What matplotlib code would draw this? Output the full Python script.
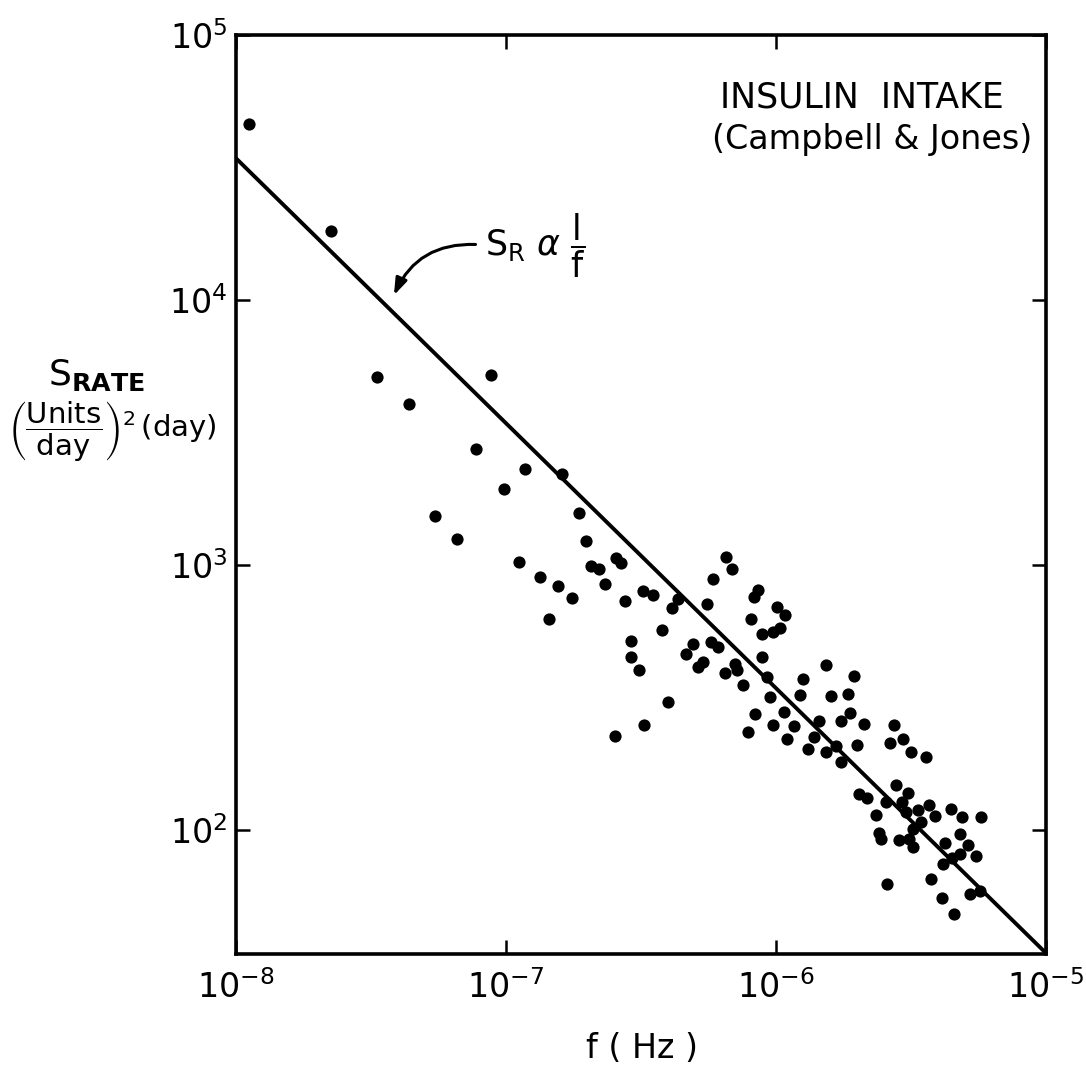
import matplotlib
matplotlib.use("Agg")
import matplotlib.pyplot as plt
import numpy as np
from matplotlib.ticker import FixedLocator, NullLocator

# ---- data ----
freq_hz = [
    1.12e-8, 2.25e-8, 3.34e-8, 4.36e-8, 8.80e-8, 7.74e-8, 1.18e-7, 1.62e-7, 9.82e-8, 5.48e-8,
    6.59e-8, 1.86e-7, 1.98e-7, 1.12e-7, 2.07e-7, 2.21e-7, 2.55e-7, 2.67e-7, 1.34e-7, 1.56e-7,
    1.76e-7, 2.33e-7, 2.77e-7, 1.44e-7, 3.23e-7, 3.52e-7, 3.78e-7, 4.35e-7, 4.13e-7, 6.55e-7,
    6.89e-7, 5.85e-7, 5.54e-7, 2.90e-7, 2.91e-7, 3.10e-7, 4.00e-7, 3.26e-7, 2.53e-7, 4.93e-7,
    4.66e-7, 5.14e-7, 5.38e-7, 5.76e-7, 6.11e-7, 6.46e-7, 7.06e-7, 7.18e-7, 7.53e-7, 8.61e-7,
    8.28e-7, 8.08e-7, 1.01e-6, 1.08e-6, 8.92e-7, 9.78e-7, 1.04e-6, 8.92e-7, 9.27e-7, 9.49e-7,
    1.23e-6, 8.34e-7, 1.07e-6, 9.73e-7, 1.17e-6, 7.87e-7, 1.10e-6, 1.26e-6, 1.53e-6, 1.95e-6,
    1.60e-6, 1.85e-6, 1.44e-6, 1.39e-6, 1.32e-6, 1.53e-6, 1.67e-6, 1.74e-6, 1.88e-6, 1.74e-6,
    2.12e-6, 2.00e-6, 2.75e-6, 2.95e-6, 2.64e-6, 3.17e-6, 3.59e-6, 2.04e-6, 2.17e-6, 2.79e-6,
    3.08e-6, 2.94e-6, 2.56e-6, 2.35e-6, 3.04e-6, 3.35e-6, 3.69e-6, 3.87e-6, 3.46e-6, 3.22e-6,
    2.40e-6, 2.45e-6, 2.85e-6, 3.12e-6, 3.22e-6, 4.47e-6, 4.89e-6, 5.77e-6, 4.82e-6, 5.13e-6,
    4.24e-6, 4.16e-6, 4.48e-6, 4.80e-6, 5.52e-6, 2.59e-6, 3.77e-6, 4.12e-6, 4.55e-6, 5.23e-6,
    5.69e-6,
]
s_rate = [
    46400, 18300, 5140, 4060, 5200, 2740, 2310, 2200, 1930, 1530,
    1256, 1570, 1227, 1023, 991, 964, 1065, 1020, 900, 836,
    750, 845, 731, 627, 798, 769, 570, 745, 689, 1075,
    962, 887, 710, 518, 451, 401, 305, 248, 226, 502,
    463, 411, 432, 512, 492, 391, 424, 403, 352, 807,
    759, 623, 695, 645, 550, 556, 577, 451, 378, 318,
    323, 273, 278, 248, 246, 234, 220, 370, 420, 382,
    319, 327, 258, 225, 202, 197, 207, 180, 277, 257,
    252, 210, 248, 221, 213, 197, 189, 137, 132, 148,
    138, 127, 127, 114, 117, 119, 124, 113, 107, 101,
    97.7, 92.3, 91.6, 92.0, 86.0, 120, 112, 112, 96.1, 87.7,
    89.5, 74.6, 78.2, 81.2, 79.8, 62.4, 65.0, 55.3, 48.2, 57.3,
    59.0,
]
line_coef = 3.43e-4          # S_R = line_coef / f
line_f = [1e-8, 1e-5]

x_ticks = [1e-8, 1e-7, 1e-6, 1e-5]
x_tick_labels = [r"$10^{-8}$", r"$10^{-7}$", r"$10^{-6}$", r"$10^{-5}$"]
y_ticks = [1e2, 1e3, 1e4, 1e5]
y_tick_labels = [r"$10^{2}$", r"$10^{3}$", r"$10^{4}$", r"$10^{5}$"]

# ---- figure ----
plt.rcParams["font.family"] = ["DejaVu Sans"]
plt.rcParams["mathtext.fontset"] = "dejavusans"

fig = plt.figure(figsize=(10.86, 10.69), dpi=100)
ax = fig.add_axes([0.2173, 0.1076, 0.7457, 0.8595])

ax.set_xscale("log")
ax.set_yscale("log")
ax.set_xlim(1e-8, 1e-5)
ax.set_ylim(34, 1e5)

ax.plot(freq_hz, s_rate, "o", color="black", markersize=8.8, markeredgewidth=0)
lf = np.array(line_f)
ax.plot(lf, line_coef / lf, color="black", linewidth=2.8, solid_capstyle="butt")

ax.xaxis.set_major_locator(FixedLocator(x_ticks))
ax.yaxis.set_major_locator(FixedLocator(y_ticks))
ax.xaxis.set_minor_locator(NullLocator())
ax.yaxis.set_minor_locator(NullLocator())
ax.set_xticklabels(x_tick_labels)
ax.set_yticklabels(y_tick_labels)
ax.tick_params(which="major", direction="in", length=10, width=1.8,
               top=True, right=True, labelsize=24, color="black")
ax.tick_params(axis="x", pad=12)
ax.tick_params(axis="y", pad=6)
for sp in ax.spines.values():
    sp.set_linewidth(2.6)

# annotation
ax.annotate("", xy=(3.81e-8, 1.02e4), xytext=(7.9e-8, 1.62e4),
            arrowprops=dict(arrowstyle="-|>,head_length=1.0,head_width=0.35",
                            connectionstyle="arc3,rad=0.35", color="black", lw=2.2))
ax.text(8.4e-8, 1.6e4, r"$\mathrm{S}_{\mathrm{R}}\ \alpha\ \dfrac{\mathrm{l}}{\mathrm{f}}$",
        fontsize=25, ha="left", va="center")

# title block
fig.text(862 / 1086, 1 - 97 / 1069, "INSULIN  INTAKE", fontsize=25, ha="center", va="center")
fig.text(872 / 1086, 1 - 140 / 1069, "(Campbell & Jones)", fontsize=24, ha="center", va="center")

# y label
fig.text(97 / 1086, 1 - 375 / 1069, r"$\mathrm{S}_{\mathbf{RATE}}$", fontsize=26,
         ha="center", va="center")
fig.text(112 / 1086, 1 - 432 / 1069,
         r"$\left(\dfrac{\mathrm{Units}}{\mathrm{day}}\right)^{2}\,(\mathrm{day})$",
         fontsize=21, ha="center", va="center")

# x label
fig.text(642 / 1086, 1 - 1048 / 1069, "f ( Hz )", fontsize=24, ha="center", va="center")

fig.savefig("out.png", dpi=100, facecolor="white")
